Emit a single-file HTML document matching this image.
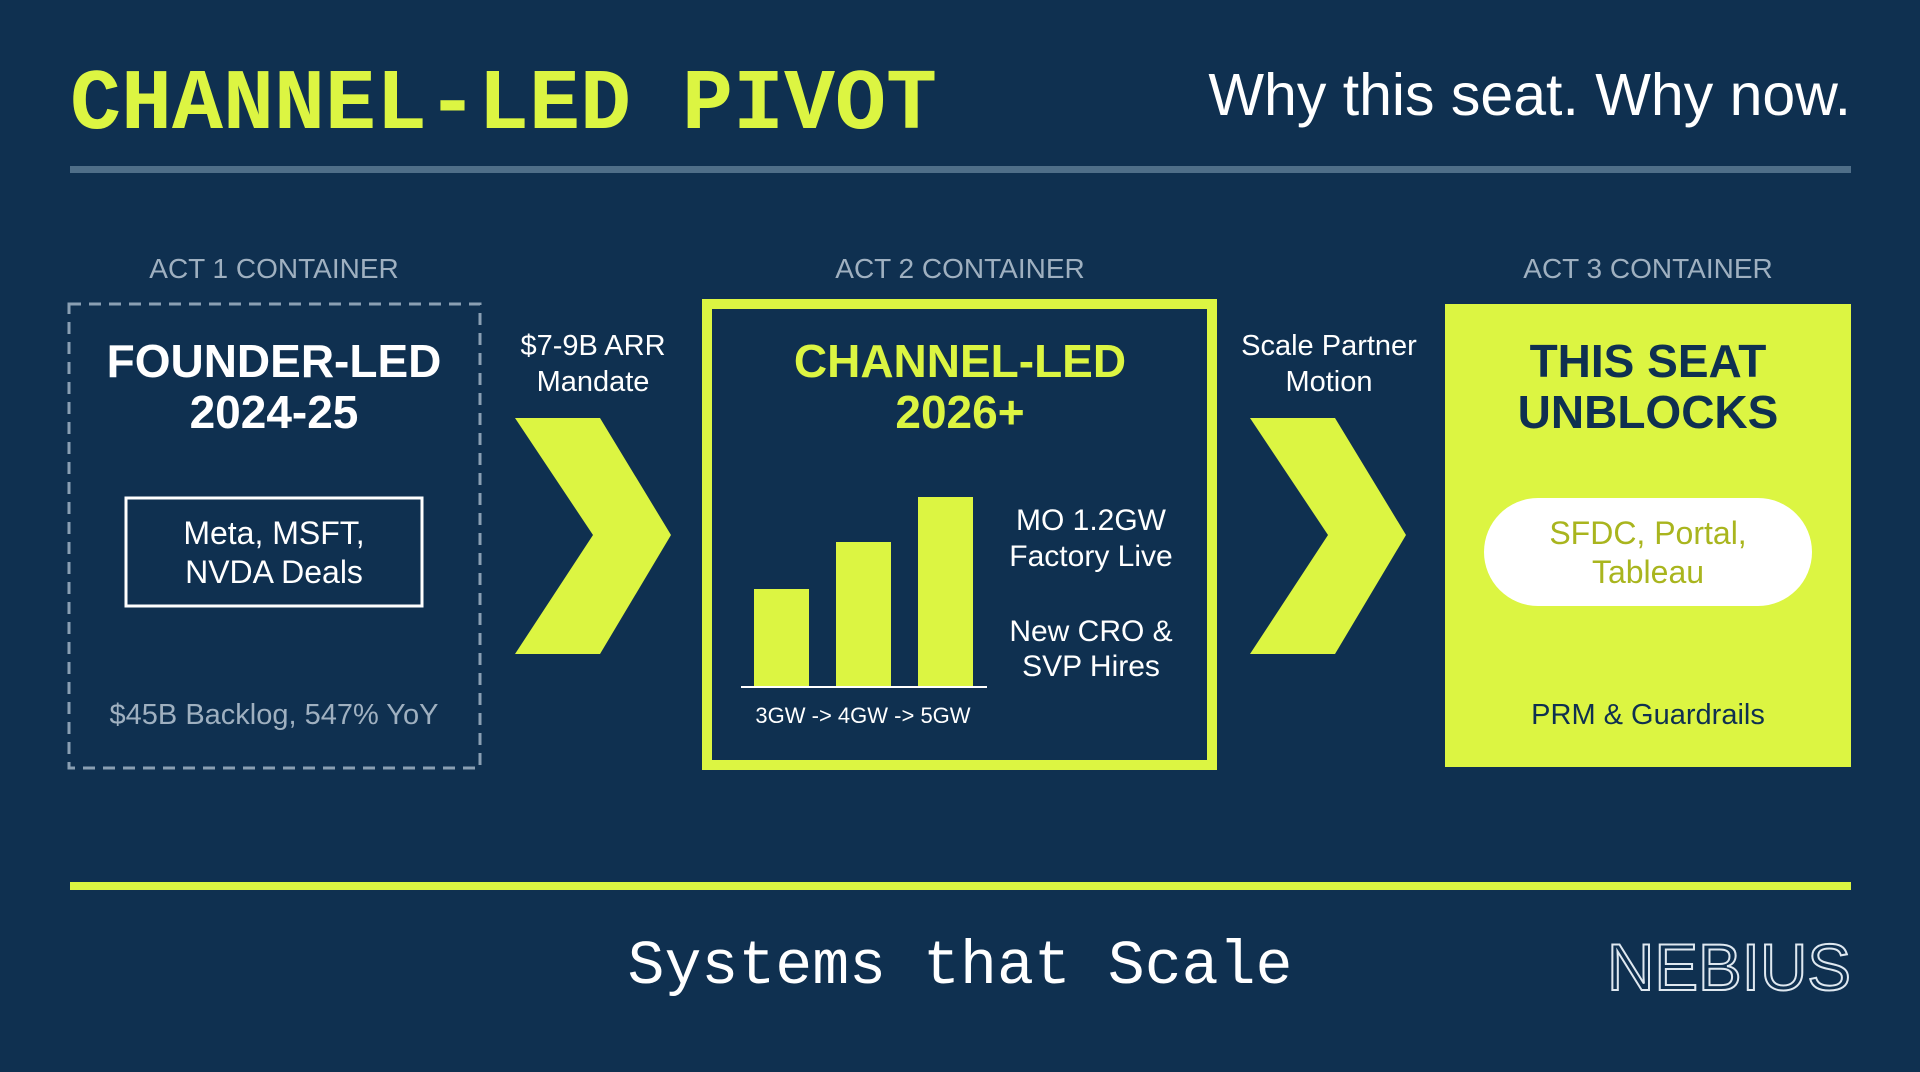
<!DOCTYPE html>
<html><head><meta charset="utf-8"><style>
html,body{margin:0;padding:0;background:#0f3050;}
svg{display:block}
</style></head><body>
<svg width="1920" height="1072" viewBox="0 0 1920 1072" xmlns="http://www.w3.org/2000/svg">
<rect width="1920" height="1072" fill="#0f3050"/>
<g font-family="Liberation Sans, sans-serif">
<text x="70" y="128" font-family="Liberation Mono, monospace" font-weight="bold" font-size="86" fill="#dcf542" textLength="867" lengthAdjust="spacingAndGlyphs">CHANNEL-LED PIVOT</text>
<text x="1851" y="115" text-anchor="end" font-size="59" fill="#ffffff">Why this seat. Why now.</text>
<rect x="70" y="166" width="1781" height="7" fill="#4f6e88"/>

<g font-size="28" fill="#9fb0c0" text-anchor="middle">
<text x="274" y="278">ACT 1 CONTAINER</text>
<text x="960" y="278">ACT 2 CONTAINER</text>
<text x="1648" y="278">ACT 3 CONTAINER</text>
</g>

<!-- Box 1 -->
<rect x="69" y="304" width="411" height="464" fill="none" stroke="#8a9fb3" stroke-width="3" stroke-dasharray="12 8"/>
<g text-anchor="middle" font-weight="bold" font-size="46" fill="#ffffff">
<text x="274" y="377">FOUNDER-LED</text>
<text x="274" y="428">2024-25</text>
</g>
<rect x="126" y="498" width="296" height="108" fill="none" stroke="#ffffff" stroke-width="3"/>
<g text-anchor="middle" font-size="32" fill="#ffffff">
<text x="274" y="544">Meta, MSFT,</text>
<text x="274" y="583">NVDA Deals</text>
</g>
<text x="274" y="724" text-anchor="middle" font-size="29" fill="#9fb0c0">$45B Backlog, 547% YoY</text>

<!-- Arrow 1 -->
<g text-anchor="middle" font-size="29" fill="#ffffff">
<text x="593" y="355">$7-9B ARR</text>
<text x="593" y="391">Mandate</text>
</g>
<polygon points="515,418 600,418 671,535 600,654 515,654 593,535" fill="#dcf542"/>

<!-- Box 2 -->
<rect x="707" y="304" width="505" height="461" fill="none" stroke="#dcf542" stroke-width="10"/>
<g text-anchor="middle" font-weight="bold" font-size="46" fill="#dcf542">
<text x="960" y="377">CHANNEL-LED</text>
<text x="960" y="428">2026+</text>
</g>
<rect x="754" y="589" width="55" height="98" fill="#dcf542"/>
<rect x="836" y="542" width="55" height="145" fill="#dcf542"/>
<rect x="918" y="497" width="55" height="190" fill="#dcf542"/>
<rect x="741" y="686" width="246" height="2" fill="#ffffff"/>
<text x="863" y="723" text-anchor="middle" font-size="22" fill="#ffffff">3GW -&gt; 4GW -&gt; 5GW</text>
<g text-anchor="middle" font-size="30" fill="#ffffff">
<text x="1091" y="530">MO 1.2GW</text>
<text x="1091" y="566">Factory Live</text>
<text x="1091" y="641">New CRO &amp;</text>
<text x="1091" y="676">SVP Hires</text>
</g>

<!-- Arrow 2 -->
<g text-anchor="middle" font-size="29" fill="#ffffff">
<text x="1329" y="355">Scale Partner</text>
<text x="1329" y="391">Motion</text>
</g>
<polygon points="1250,418 1335,418 1406,535 1335,654 1250,654 1328,535" fill="#dcf542"/>

<!-- Box 3 -->
<rect x="1445" y="304" width="406" height="463" fill="#dcf542"/>
<g text-anchor="middle" font-weight="bold" font-size="46" fill="#0f3050">
<text x="1648" y="377">THIS SEAT</text>
<text x="1648" y="428">UNBLOCKS</text>
</g>
<rect x="1484" y="498" width="328" height="108" rx="54" fill="#ffffff"/>
<g text-anchor="middle" font-size="32" fill="#a9b51e">
<text x="1648" y="544">SFDC, Portal,</text>
<text x="1648" y="583">Tableau</text>
</g>
<text x="1648" y="724" text-anchor="middle" font-size="29" fill="#0f3050">PRM &amp; Guardrails</text>

<rect x="70" y="882" width="1781" height="8" fill="#dcf542"/>
<text x="960" y="983" text-anchor="middle" font-family="Liberation Mono, monospace" font-size="62" fill="#ffffff" textLength="665" lengthAdjust="spacingAndGlyphs">Systems that Scale</text>
<text x="1607" y="990" font-size="66" fill="none" stroke="#dfe8f0" stroke-width="2" textLength="244" lengthAdjust="spacingAndGlyphs">NEBIUS</text>
</g>
</svg>
</body></html>
